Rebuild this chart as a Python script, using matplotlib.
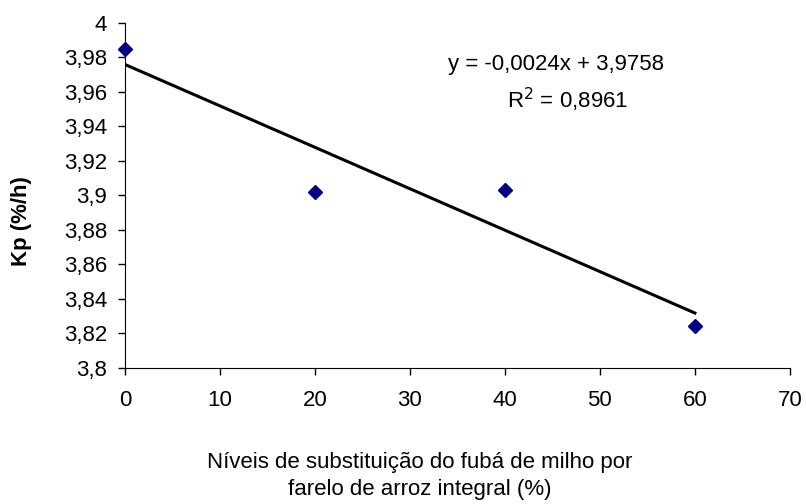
import numpy as np
import matplotlib.pyplot as plt
from matplotlib.ticker import FuncFormatter

plt.rcParams['font.family'] = ['Liberation Sans', 'DejaVu Sans']

# data
niveis = [0, 20, 40, 60]
kp = [3.985, 3.902, 3.903, 3.824]
slope = -0.0024
intercept = 3.9758
r2 = 0.8961

fig = plt.figure(figsize=(8.06, 5.04), dpi=100)
ax = fig.add_axes([0.155, 0.270, 0.825, 0.685])

# trend line
x_fit = np.array([min(niveis), max(niveis)])
ax.plot(x_fit, slope * x_fit + intercept, color="black", lw=2.2)
ax.plot(niveis, kp, linestyle="None", marker="D", ms=7, color="#000080", clip_on=False, zorder=3)

ax.set_xlim(0, 70)
ax.set_ylim(3.8, 4.0)
ax.set_xticks(np.arange(0, 71, 10))
ax.set_yticks(np.arange(3.8, 4.001, 0.02))

def fmt(v, pos):
    s = ("%.2f" % v).rstrip("0").rstrip(".")
    return s.replace(".", ",")

ax.yaxis.set_major_formatter(FuncFormatter(fmt))
ax.tick_params(labelsize=16, direction="out", length=5, width=1)
ax.tick_params(axis="x", pad=11)
ax.tick_params(axis="y", pad=8)
for s in ["top", "right"]:
    ax.spines[s].set_visible(False)

ax.text(45.4, 3.9755, "y = -0,0024x + 3,9758", ha="center", va="center", fontsize=16)
ax.text(46.6, 3.9552, r"R$^2$ = 0,8961", ha="center", va="center", fontsize=16)

fig.text(0.027, 0.562, "Kp (%/h)", rotation=90, ha="center", va="center",
         fontsize=16, fontweight="bold")
fig.text(0.521, 0.056, "Níveis de substituição do fubá de milho por\nfarelo de arroz integral (%)",
         ha="center", va="center", fontsize=16, linespacing=1.4)

plt.savefig("out.png")
